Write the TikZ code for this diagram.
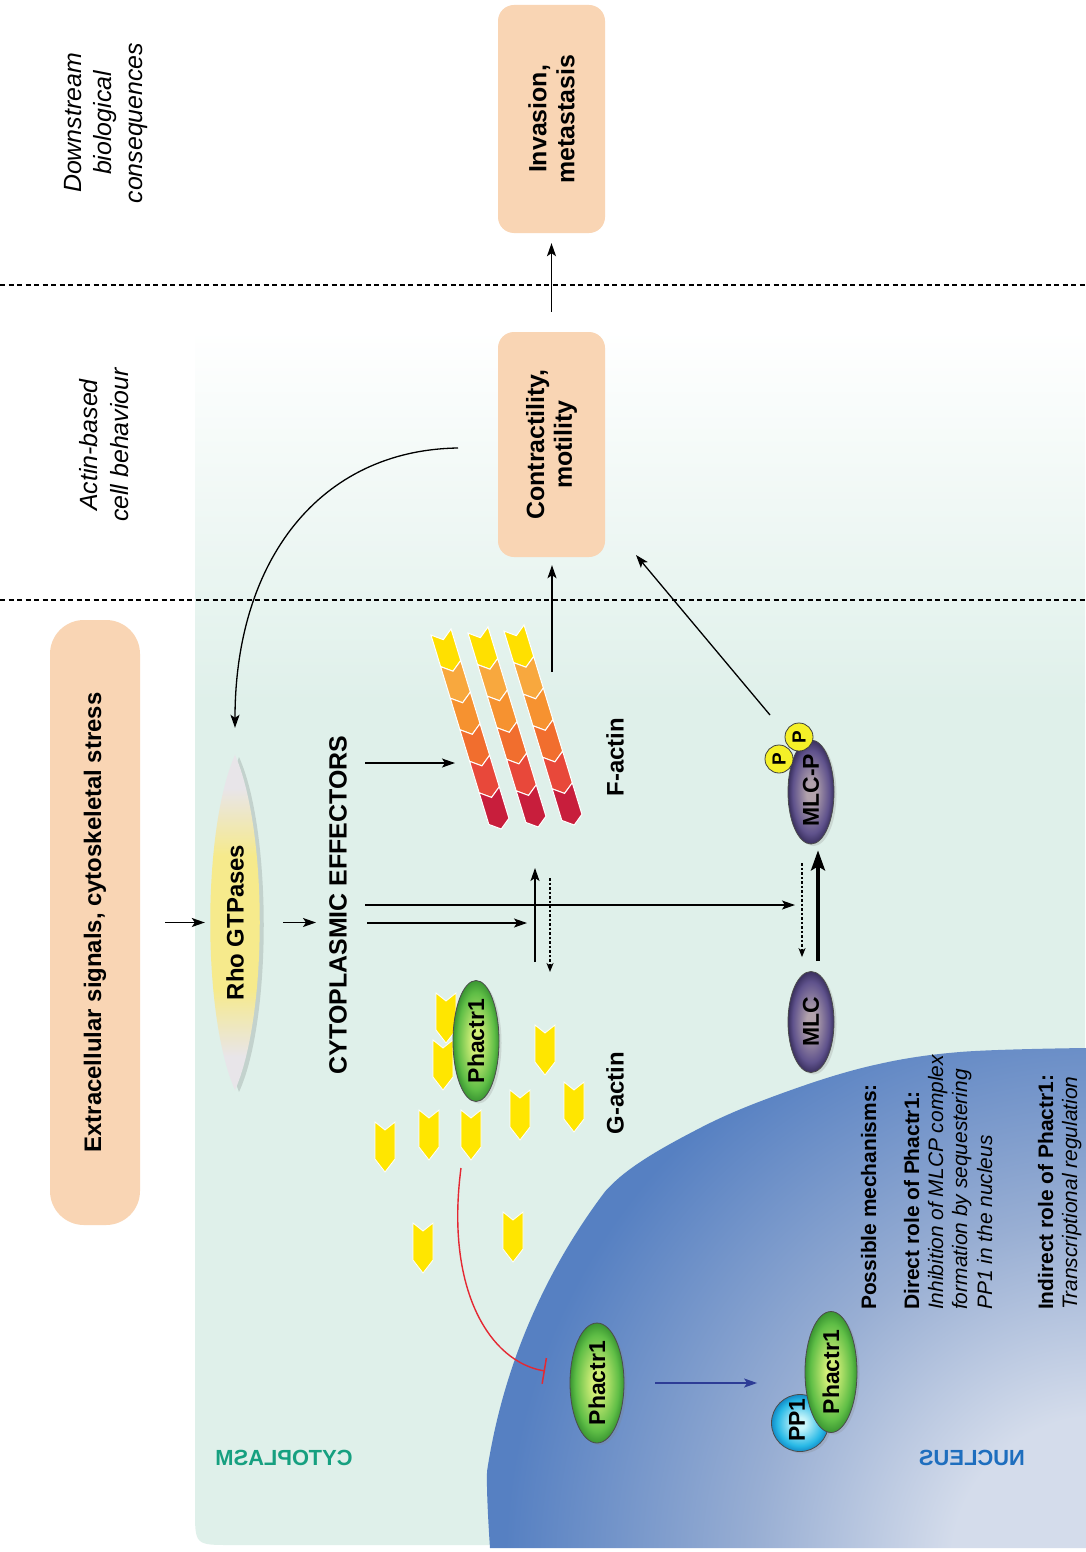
\documentclass[tikz,border=0pt]{standalone}
\usepackage{fontspec}
\setmainfont{Liberation Sans}
\usepackage{graphicx}
\usetikzlibrary{arrows.meta,shapes.geometric,shadows,calc}

% palette
\definecolor{cyto}{RGB}{223,240,234}
\definecolor{peach}{RGB}{249,213,180}
\definecolor{rhoend}{RGB}{232,229,233}
\definecolor{rhoyel}{RGB}{246,234,140}
\definecolor{phlight}{RGB}{210,238,120}
\definecolor{phgreen}{RGB}{95,190,70}
\definecolor{phedge}{RGB}{58,150,50}
\definecolor{mlclight}{RGB}{178,162,172}
\definecolor{mlcdark}{RGB}{95,82,140}
\definecolor{mlcedge}{RGB}{58,48,95}
\definecolor{pplight}{RGB}{200,245,250}
\definecolor{ppcyan}{RGB}{40,185,230}
\definecolor{ppedge}{RGB}{20,140,200}
\definecolor{gactin}{RGB}{255,230,0}
\definecolor{fa1}{RGB}{255,224,0}
\definecolor{fa2}{RGB}{248,168,62}
\definecolor{fa3}{RGB}{246,146,48}
\definecolor{fa4}{RGB}{241,110,46}
\definecolor{fa5}{RGB}{232,72,58}
\definecolor{fa6}{RGB}{200,30,60}
\definecolor{pyellow}{RGB}{245,240,40}
\definecolor{cytotext}{RGB}{22,160,128}
\definecolor{nuctext}{RGB}{30,110,190}
\definecolor{inhred}{RGB}{228,40,50}
\definecolor{navyarr}{RGB}{45,60,150}
\definecolor{nuclight}{RGB}{212,220,235}
\definecolor{nucmid}{RGB}{152,174,211}
\definecolor{nucdark}{RGB}{86,128,194}

% shadings (bounding box half size = 25bp)
\pgfdeclareradialshading{greenball}{\pgfpoint{0bp}{0bp}}{color(0bp)=(phlight); color(5bp)=(phlight); color(20bp)=(phgreen); color(25bp)=(phedge); color(50bp)=(phedge)}
\pgfdeclareradialshading{purpleball}{\pgfpoint{0bp}{0bp}}{color(0bp)=(mlclight); color(5bp)=(mlclight); color(20bp)=(mlcdark); color(25bp)=(mlcedge); color(50bp)=(mlcedge)}
\pgfdeclareradialshading{cyanball}{\pgfpoint{0bp}{0bp}}{color(0bp)=(pplight); color(5bp)=(pplight); color(20bp)=(ppcyan); color(25bp)=(ppedge); color(50bp)=(ppedge)}
\pgfdeclareradialshading{nucshade}{\pgfpoint{0bp}{0bp}}{color(0bp)=(nuclight); color(6bp)=(nuclight); color(14bp)=(nucmid); color(24bp)=(nucdark); color(50bp)=(nucdark)}
\pgfdeclareverticalshading{rhoshade}{100bp}{color(0bp)=(rhoend); color(30bp)=(rhoend); color(40bp)=(rhoyel); color(60bp)=(rhoyel); color(70bp)=(rhoend); color(100bp)=(rhoend)}

\tikzset{
  filament/.pic={
    \foreach \fcol [count=\segidx from 0] in {fa1,fa2,fa3,fa4,fa5,fa6}{
      \pgfmathsetmacro{\segoff}{33*\segidx}
      \filldraw[fill=\fcol, draw=white, line width=1bp]
        (-10.5,\segoff) -- (0,\segoff+8) -- (10.5,\segoff) -- (10.5,\segoff+33)
        -- (0,\segoff+41) -- (-10.5,\segoff+33) -- cycle;
    }
  },
  gmono/.pic={
    \filldraw[fill=gactin, draw=white, line width=0.8bp]
      (-10,-25) -- (0,-17) -- (10,-25) -- (10,12) -- (0,25) -- (-10,12) -- cycle;
  }
}

\begin{document}
\begin{tikzpicture}[x=1bp, y=-1bp,
  arr/.style={-{Stealth[length=13bp,width=9bp,inset=3bp]}, line width=1.3bp, draw=black},
  dotarr/.style={-{Stealth[length=9bp,width=7bp,inset=2.5bp]}, line width=1.3bp, dash pattern=on 2.5bp off 2bp},
  thickarr/.style={-{Stealth[length=20bp,width=14bp,inset=4bp]}, line width=3.5bp},
  bluearr/.style={-{Stealth[length=13bp,width=9bp,inset=3bp]}, line width=1.4bp, draw=navyarr},
  inh/.style={-{Bar[width=26bp,line width=1.5bp]}, line width=1.4bp, draw=inhred},
  dashline/.style={line width=1.3bp, dash pattern=on 5bp off 3.5bp},
  box/.style={rectangle, rounded corners=16bp, fill=peach, draw=none},
  rtext/.style={rotate=90, align=center, inner sep=0pt, font=\fontsize{25}{28}\selectfont\bfseries},
  moltext/.style={rotate=90, inner sep=0pt, font=\fontsize{23}{26}\selectfont\bfseries},
  head/.style={rotate=90, align=center, inner sep=0pt, font=\fontsize{25}{31}\selectfont\itshape},
  ntext/.style={rotate=90, anchor=base west, inner sep=0pt, font=\fontsize{21}{25}\selectfont},
  mol/.style={inner sep=0pt, draw=black!70, line width=0.8bp, shade,
    drop shadow={shadow xshift=2.5bp, shadow yshift=-2bp, opacity=0.22}},
  pcirc/.style={circle, minimum size=28bp, inner sep=0pt, fill=pyellow, draw=black!75, line width=0.8bp}
]
\useasboundingbox (0,0) rectangle (1085,1552);
\fill[white] (0,0) rectangle (1085,1552);

% cytoplasm: fades in from the top, rounded lower left corner
\shade[top color=white, bottom color=cyto] (195,330) rectangle (1085,702);
\fill[cyto] (195,700) -- (195,1509) .. controls (195,1545) .. (231,1545) -- (1085,1545) -- (1085,700) -- cycle;

% nucleus
\begin{scope}
  \clip plot[smooth, tension=0.6] coordinates {(1086,1048) (960,1052) (870,1066) (780,1094) (700,1128) (620,1177) (570,1238) (538,1292) (510,1345) (494,1407) (487,1473) (490,1548)} -- (1086,1548) -- cycle;
  \shade[shading=nucshade] (1100,1565) circle[radius=620bp];
\end{scope}

% level separators
\draw[dashline] (0,285) -- (1085,285);
\draw[dashline] (0,600) -- (1085,600);

% level headings
\node[head] (hdown) at (106,123) {Downstream\\biological\\consequences};
\node[head] (hactin) at (104,445) {Actin-based\\cell behaviour};

% outcome boxes
\node[box, minimum width=107bp, minimum height=228bp] (inv) at (551.5,119) {};
\node[rtext] at (inv) {Invasion,\\metastasis};
\node[box, minimum width=107bp, minimum height=225bp] (ctr) at (551.5,444.5) {};
\node[rtext] at (ctr) {Contractility,\\motility};
\node[box, rounded corners=34bp, minimum width=90bp, minimum height=605bp] (ext) at (95,922.5) {};
\node[rtext, font=\fontsize{24}{28}\selectfont\bfseries] at (ext) {Extracellular signals, cytoskeletal stress};

% Rho GTPases spindle
\node[minimum width=50bp, minimum height=335bp, inner sep=0pt] (rho) at (235,922.5) {};
\fill[black, opacity=0.12] (239,757) .. controls (272,830) and (272,1020) .. (239,1092) .. controls (212,1020) and (212,830) .. (239,757);
\shade[shading=rhoshade] (rho.north) .. controls (268,830) and (268,1015) .. (rho.south) .. controls (202,1015) and (202,830) .. (rho.north);
\node[rtext, font=\fontsize{24}{28}\selectfont\bfseries] at (rho) {Rho GTPases};

% cytoplasmic effectors
\node[rtext] (eff) at (338,905) {CYTOPLASMIC EFFECTORS};

% G-actin monomers
\foreach \gx/\gy in {446/1018, 443/1065, 385/1147, 429/1135, 471/1135, 520/1115, 545/1050, 574/1107, 423/1248, 513/1237}
  \pic at (\gx,\gy) {gmono};
\node[mol, ellipse, shading=greenball, minimum width=46bp, minimum height=121bp] (phc) at (476,1041) {};
\node[moltext] at (phc) {Phactr1};
\node[rtext, font=\fontsize{24}{28}\selectfont\bfseries] (galbl) at (615,1093) {G-actin};

% F-actin filaments
\pic[rotate=17] at (441,632) {filament};
\pic[rotate=17] at (478,630) {filament};
\pic[rotate=17] at (514,628) {filament};
\node[rtext, font=\fontsize{24}{28}\selectfont\bfseries] (falbl) at (615,757) {F-actin};

% myosin light chain
\node[mol, ellipse, shading=purpleball, minimum width=46bp, minimum height=104bp] (mlcp) at (811,792) {};
\node[moltext] at (811,790) {MLC-P};
\node[pcirc] (pb) at (799,737) {\rotatebox{90}{\fontsize{19}{21}\selectfont\bfseries P}};
\node[pcirc] (pa) at (779,759) {\rotatebox{90}{\fontsize{19}{21}\selectfont\bfseries P}};
\node[mol, ellipse, shading=purpleball, minimum width=46bp, minimum height=101bp] (mlc) at (811,1022) {};
\node[moltext] at (mlc) {MLC};

% nuclear Phactr1 and the Phactr1-PP1 complex
\node[mol, ellipse, shading=greenball, minimum width=54bp, minimum height=120bp] (pha) at (597,1383) {};
\node[moltext] at (pha) {Phactr1};
\node[mol, circle, shading=cyanball, minimum size=57bp] (pp1) at (800,1423) {};
\node[moltext] at (797,1420) {PP1};
\node[mol, ellipse, shading=greenball, minimum width=52bp, minimum height=121bp] (phn) at (831,1372) {};
\node[moltext] at (phn) {Phactr1};

% compartment labels
\node[font=\fontsize{22}{26}\selectfont\bfseries, text=cytotext] (cylbl) at (284,1458) {\reflectbox{CYTOPLASM}};
\node[font=\fontsize{22}{26}\selectfont\bfseries, text=nuctext] (nulbl) at (972,1458) {\reflectbox{NUCLEUS}};

% mechanisms text
\node[ntext, font=\fontsize{21}{25}\selectfont\bfseries] (m1) at (876,1310) {Possible mechanisms:};
\node[ntext, font=\fontsize{21}{25}\selectfont\bfseries] (m2) at (919,1310) {Direct role of Phactr1:};
\node[ntext, font=\fontsize{21}{25}\selectfont\itshape] (m3) at (943,1310) {Inhibition of MLCP complex};
\node[ntext, font=\fontsize{21}{25}\selectfont\itshape] (m4) at (967,1310) {formation by sequestering};
\node[ntext, font=\fontsize{21}{25}\selectfont\itshape] (m5) at (992,1310) {PP1 in the nucleus};
\node[ntext, font=\fontsize{21}{25}\selectfont\bfseries] (m6) at (1053,1310) {Indirect role of Phactr1:};
\node[ntext, font=\fontsize{21}{25}\selectfont\itshape] (m7) at (1077,1310) {Transcriptional regulation};

% connector end points
\coordinate (factin) at (455,763);
\coordinate (mlcx) at (795,905);
\coordinate (gfx) at (527,923);
\coordinate (polyA) at (535,962);
\coordinate (polyB) at (535,868);
\coordinate (depolA) at (550,878);
\coordinate (depolB) at (550,972);
\coordinate (fatop) at (552,672);
\coordinate (mlcpT) at (770,715);
\coordinate (ctrH) at (636,555);
\coordinate (loopS) at (458,448);
\coordinate (inhS) at (461,1168);
\coordinate (inhE) at (545,1371);

% signalling arrows
\draw[arr, shorten <=20bp, shorten >=10bp] (ctr.north) -- (inv.south);
\draw[arr, shorten >=8bp] (fatop) -- (fatop |- ctr.south);
\draw[arr] (mlcpT) -- (ctrH);
\draw[arr, shorten >=27bp] (loopS) .. controls (320,450) and (235,560) .. (rho.north);
\draw[arr, shorten <=25bp, shorten >=5bp] (ext.east) -- (rho.west);
\draw[arr, shorten <=23bp, shorten >=13bp] (rho.east) -- (rho.east -| eff.north);
\draw[arr, shorten <=18bp] (eff.south |- factin) -- (factin);
\draw[arr, shorten <=18bp] (eff.south) -- (mlcx);
\draw[arr, shorten <=20bp] (eff.south |- gfx) -- (gfx);
\draw[arr] (polyA) -- (polyB);
\draw[dotarr] (depolA) -- (depolB);
\draw[dotarr, shorten <=19bp, shorten >=14bp] ([xshift=-9bp]mlcp.south) -- ([xshift=-9bp]mlc.north);
\draw[thickarr, shorten <=10bp, shorten >=6bp] ([xshift=7bp]mlc.north) -- ([xshift=7bp]mlcp.south);
\draw[inh] (inhS) .. controls (445,1290) and (490,1362) .. (inhE);
\draw[bluearr, shorten <=31bp, shorten >=14bp] (pha.east) -- (pha.east -| pp1.west);
\end{tikzpicture}
\end{document}
